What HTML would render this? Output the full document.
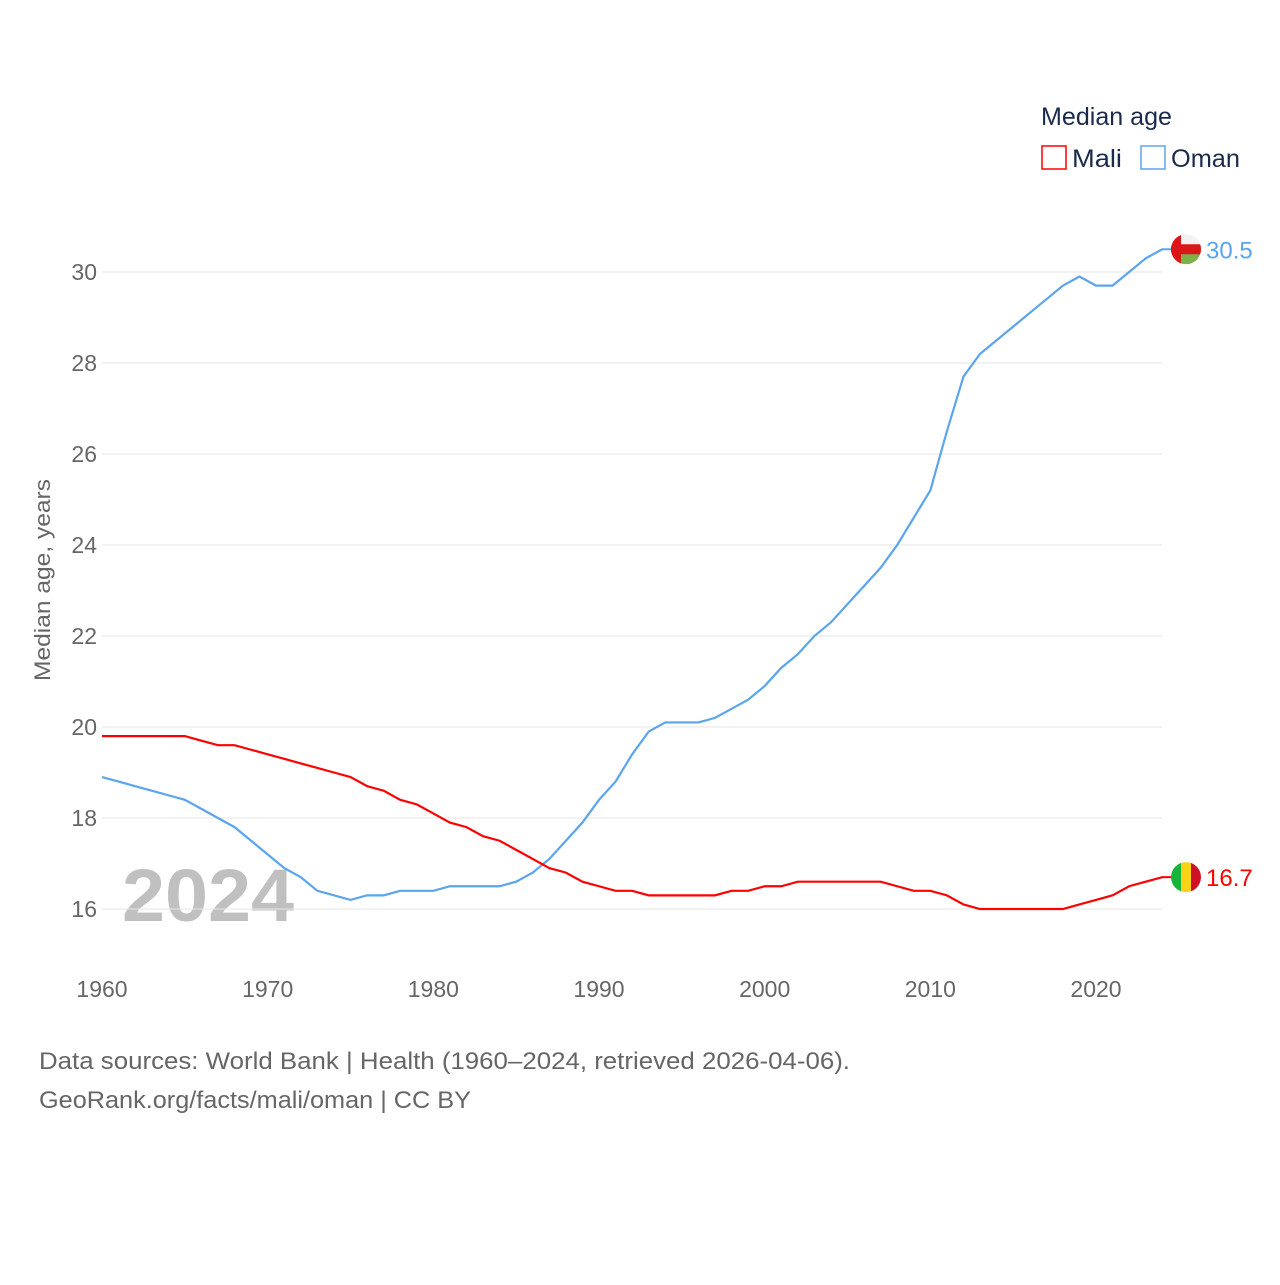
<!DOCTYPE html>
<html><head><meta charset="utf-8"><style>
body{margin:0;background:#fff;}
svg text{font-family:"Liberation Sans",sans-serif;}
</style></head><body>
<svg id="c" width="1280" height="1280" xmlns="http://www.w3.org/2000/svg">
<defs>
<clipPath id="fo"><circle cx="1186" cy="249" r="15"/></clipPath>
<clipPath id="fm"><circle cx="1186" cy="877" r="15"/></clipPath>
</defs>
<text x="1041" y="125" font-size="25" fill="#1a2b4a" textLength="131" lengthAdjust="spacingAndGlyphs">Median age</text>
<rect x="1042" y="146" width="24" height="23" fill="none" stroke="#ff0000" stroke-width="1.5"/>
<text x="1072" y="167" font-size="25" fill="#1a2b4a" textLength="50" lengthAdjust="spacingAndGlyphs">Mali</text>
<rect x="1141" y="146" width="24" height="23" fill="none" stroke="#5aa5ee" stroke-width="1.5"/>
<text x="1171" y="167" font-size="25" fill="#1a2b4a" textLength="69" lengthAdjust="spacingAndGlyphs">Oman</text>
<text x="50" y="580" font-size="22" fill="#666" transform="rotate(-90 50 580)" text-anchor="middle" textLength="202" lengthAdjust="spacingAndGlyphs">Median age, years</text>
<text x="122" y="921" font-size="74" font-weight="bold" fill="#c0c0c0" textLength="172" lengthAdjust="spacingAndGlyphs">2024</text>
<g id="grid"></g><g id="lines"></g>
<text x="39" y="1069" font-size="24" fill="#666" textLength="811" lengthAdjust="spacingAndGlyphs">Data sources: World Bank | Health (1960–2024, retrieved 2026-04-06).</text>
<text x="39" y="1108" font-size="24" fill="#666" textLength="432" lengthAdjust="spacingAndGlyphs">GeoRank.org/facts/mali/oman | CC BY</text>
</svg>
<script>
const years=[];for(let y=1960;y<=2024;y++)years.push(y);
const mali=[19.8,19.8,19.8,19.8,19.8,19.8,19.7,19.6,19.6,19.5,19.4,19.3,19.2,19.1,19.0,18.9,18.7,18.6,18.4,18.3,18.1,17.9,17.8,17.6,17.5,17.3,17.1,16.9,16.8,16.6,16.5,16.4,16.4,16.3,16.3,16.3,16.3,16.3,16.4,16.4,16.5,16.5,16.6,16.6,16.6,16.6,16.6,16.6,16.5,16.4,16.4,16.3,16.1,16.0,16.0,16.0,16.0,16.0,16.0,16.1,16.2,16.3,16.5,16.6,16.7];
const oman=[18.9,18.8,18.7,18.6,18.5,18.4,18.2,18.0,17.8,17.5,17.2,16.9,16.7,16.4,16.3,16.2,16.3,16.3,16.4,16.4,16.4,16.5,16.5,16.5,16.5,16.6,16.8,17.1,17.5,17.9,18.4,18.8,19.4,19.9,20.1,20.1,20.1,20.2,20.4,20.6,20.9,21.3,21.6,22.0,22.3,22.7,23.1,23.5,24.0,24.6,25.2,26.5,27.7,28.2,28.5,28.8,29.1,29.4,29.7,29.9,29.7,29.7,30.0,30.3,30.5];
const yTicks=[16,18,20,22,24,26,28,30];
const xTicks=[1960,1970,1980,1990,2000,2010,2020];
const NS="http://www.w3.org/2000/svg";
const X=y=>102+(y-1960)*994/60;
const Y=v=>909-(v-16)*637/14;
function mk(t,a,p){const e=document.createElementNS(NS,t);for(const k in a)e.setAttribute(k,a[k]);p.appendChild(e);return e;}
const g=document.getElementById('grid'),L=document.getElementById('lines');
yTicks.forEach(v=>{
 const l=mk('line',{x1:102,x2:1162,y1:Y(v),y2:Y(v),stroke:'#e6e6e6','stroke-width':1},g);
 
 
 const t=mk('text',{x:97,y:Y(v)+8,'font-size':23,fill:'#666','text-anchor':'end'},g);t.textContent=v;
 
 
});
xTicks.forEach(v=>{
 const t=mk('text',{x:X(v),y:997,'font-size':23,fill:'#666','text-anchor':'middle'},g);t.textContent=v;
 
 
});
function series(d,col,name,flag){
 const p=mk('polyline',{points:d.map((v,i)=>X(years[i])+','+Y(v)).join(' '),fill:'none',stroke:col,'stroke-width':2.2},L);
 
 
 const last=d[d.length-1],cy=Y(last);
 const c=mk('g',{},L);
 
 
 mk('line',{x1:1162,x2:1172,y1:cy,y2:cy,stroke:col,'stroke-width':2},c);
 flag(c,1186,cy);
 const t=mk('text',{x:1206,y:cy+9,'font-size':24,fill:col},L);t.textContent=last;
 
 
}
series(oman,'#5aa5ee','oman',(c,x,y)=>{
 const f=mk('g',{'clip-path':'url(#fo)'},c);
 f.setAttribute('transform',`translate(0,${y-249})`);
 mk('rect',{x:x-15,y:249-15,width:30,height:30,fill:'#f2f2f2'},f);
 mk('rect',{x:x-15,y:249,width:30,height:15,fill:'#7db046'},f);
 mk('rect',{x:x-15,y:249-5,width:30,height:10,fill:'#db161b'},f);
 mk('rect',{x:x-15,y:249-15,width:10,height:30,fill:'#db161b'},f);
});
series(mali,'#ff0000','mali',(c,x,y)=>{
 const f=mk('g',{'clip-path':'url(#fm)'},c);
 f.setAttribute('transform',`translate(0,${y-877})`);
 mk('rect',{x:x-15,y:877-15,width:10,height:30,fill:'#14b53a'},f);
 mk('rect',{x:x-5,y:877-15,width:10,height:30,fill:'#fcd116'},f);
 mk('rect',{x:x+5,y:877-15,width:10,height:30,fill:'#ce1126'},f);
});
</script>
</body></html>
